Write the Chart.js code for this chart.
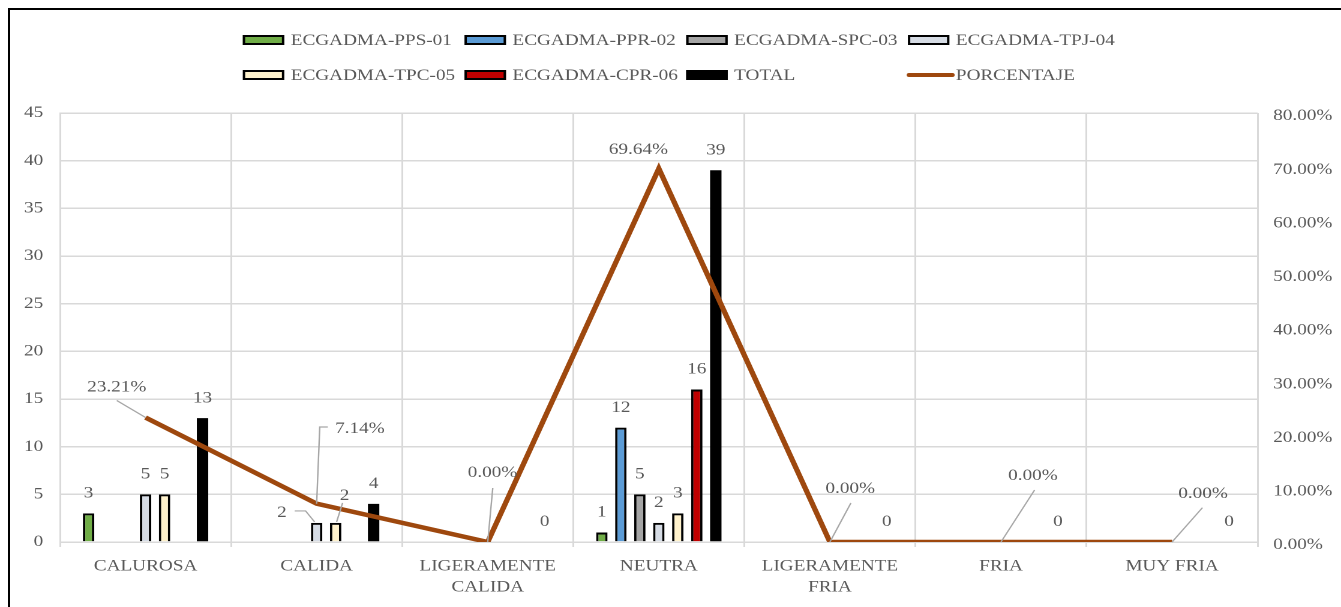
<!DOCTYPE html>
<html>
<head>
<meta charset="utf-8">
<title>Sensación térmica por punto</title>
<script src="https://cdn.jsdelivr.net/npm/chart.js@4.4.1/dist/chart.umd.min.js"></script>
<style>
  html, body { margin: 0; padding: 0; background: #fff; width: 1341px; height: 607px; overflow: hidden; }
  #wrap { position: absolute; left: 0; top: 0; width: 1118px; height: 607px; transform: scaleX(1.2); transform-origin: 0 0; }
  #frame-top { position: absolute; left: 8px; top: 8px; width: 1333px; height: 2px; background: #000; }
  #frame-left { position: absolute; left: 8px; top: 8px; width: 2px; height: 599px; background: #000; }
</style>
</head>
<body>
<div id="wrap"><canvas id="chart" width="1118" height="607"></canvas></div>
<div id="frame-top"></div>
<div id="frame-left"></div>
<script>
// Categories of thermal sensation
const categories = ['CALUROSA', 'CALIDA', ['LIGERAMENTE', 'CALIDA'], 'NEUTRA', ['LIGERAMENTE', 'FRIA'], 'FRIA', 'MUY FRIA'];

// Responses per station
const seriesNames = ['ECGADMA-PPS-01', 'ECGADMA-PPR-02', 'ECGADMA-SPC-03', 'ECGADMA-TPJ-04', 'ECGADMA-TPC-05', 'ECGADMA-CPR-06', 'TOTAL'];
const pps01 = [3, 0, 0, 1, 0, 0, 0];
const ppr02 = [0, 0, 0, 12, 0, 0, 0];
const spc03 = [0, 0, 0, 5, 0, 0, 0];
const tpj04 = [5, 2, 0, 2, 0, 0, 0];
const tpc05 = [5, 2, 0, 3, 0, 0, 0];
const cpr06 = [0, 0, 0, 16, 0, 0, 0];
const total = [13, 4, 0, 39, 0, 0, 0];

// Share of the total per category (%)
const porcentaje = [23.21, 7.14, 0.00, 69.64, 0.00, 0.00, 0.00];

// Axis ranges
const leftAxis = { min: 0, max: 45, step: 5 };
const rightAxis = { min: 0, max: 80, step: 10 };

const barColors = ['#70AD47', '#5B9BD5', '#A5A5A5', '#D6DCE5', '#FFF2CC', '#C00000', '#000000'];
const lineColor = '#9E480E';
const TEXT = '#595959';
const GRID = '#D9D9D9';
const LEADER = '#A6A6A6';
const FONT_FAMILY = "'Liberation Serif', 'Times New Roman', serif";

Chart.defaults.font.family = FONT_FAMILY;
Chart.defaults.font.size = 16;
Chart.defaults.color = TEXT;

const barSeries = [pps01, ppr02, spc03, tpj04, tpc05, cpr06, total];
const totalIndex = barSeries.length - 1;

const datasets = barSeries.map((values, k) => ({
  type: 'bar',
  label: seriesNames[k],
  data: values,
  backgroundColor: barColors[k],
  borderColor: '#000000',
  // the solid black total needs no outline; empty bars draw nothing
  borderWidth: c => (c.raw === 0 || k === totalIndex ? 0 : 2),
  borderSkipped: 'bottom',
  categoryPercentage: 0.777,
  barPercentage: 0.6,
  yAxisID: 'y',
  order: 1
}));

datasets.push({
  type: 'line',
  label: 'PORCENTAJE',
  data: porcentaje,
  borderColor: lineColor,
  backgroundColor: lineColor,
  borderWidth: 4.5,
  pointRadius: 0,
  tension: 0,
  fill: false,
  yAxisID: 'y1',
  order: 0
});

// Bar labels that sit beside their bar with a leader line: "dataset:index"
const barLabelMoves = {
  '3:1': { text: [-29, -10], leader: [[-18.3, -12], [-9.2, -12], [-1.7, -1]] },
  '4:1': { text: [7.5, -27], leader: [[5.8, -20], [0.8, -1]] }
};

// Placement of the percentage labels relative to each line vertex
const pctLabelPlacement = [
  { text: [-24, -30], leader: [[-24, -17], [0, 0]] },
  { text: [36, -75], leader: [[9.3, -76.7], [2.6, -76.7], [0, 0]] },
  { text: [4, -69], leader: [[4.2, -54], [0, 0]] },
  { text: [-17, -19], leader: null },
  { text: [17, -53], leader: [[17.5, -39], [0, 0]] },
  { text: [26.7, -66], leader: [[28, -52], [0, 0]] },
  { text: [25.8, -48], leader: [[25.3, -34.3], [0, 0]] }
];

function drawLeader(ctx, x0, y0, pts) {
  ctx.beginPath();
  pts.forEach((p, j) => {
    if (j === 0) ctx.moveTo(x0 + p[0], y0 + p[1]);
    else ctx.lineTo(x0 + p[0], y0 + p[1]);
  });
  ctx.stroke();
}

const valueLabels = {
  id: 'valueLabels',
  afterDatasetsDraw(chart) {
    const ctx = chart.ctx;
    ctx.save();
    ctx.font = '16px ' + FONT_FAMILY;
    ctx.fillStyle = TEXT;
    ctx.strokeStyle = LEADER;
    ctx.lineWidth = 1.2;
    ctx.textAlign = 'center';
    ctx.textBaseline = 'middle';

    barSeries.forEach((values, di) => {
      const meta = chart.getDatasetMeta(di);
      values.forEach((v, i) => {
        if (v === 0 && di !== totalIndex) return;
        const bar = meta.data[i];
        const move = barLabelMoves[di + ':' + i];
        if (move) {
          drawLeader(ctx, bar.x, bar.y, move.leader);
          ctx.fillText(String(v), bar.x + move.text[0], bar.y + move.text[1]);
        } else {
          ctx.fillText(String(v), bar.x, bar.y - 20);
        }
      });
    });

    const lineMeta = chart.getDatasetMeta(barSeries.length);
    porcentaje.forEach((v, i) => {
      const pt = lineMeta.data[i];
      const place = pctLabelPlacement[i];
      if (place.leader) drawLeader(ctx, pt.x, pt.y, place.leader);
      ctx.fillText(v.toFixed(2) + '%', pt.x + place.text[0], pt.y + place.text[1]);
    });
    ctx.restore();
  }
};

// Legend laid out on a four-column grid
const LEGEND = { left: 202.3, colStep: 184.75, top: 40, rowStep: 35, boxW: 34.6, boxH: 10, textGap: 40 };
const gridLegend = {
  id: 'gridLegend',
  afterDraw(chart) {
    const ctx = chart.ctx;
    ctx.save();
    ctx.font = '16px ' + FONT_FAMILY;
    ctx.textBaseline = 'middle';
    ctx.textAlign = 'left';
    chart.data.datasets.forEach((d, k) => {
      const x = LEGEND.left + (k % 4) * LEGEND.colStep;
      const y = LEGEND.top + Math.floor(k / 4) * LEGEND.rowStep;
      if (d.type === 'line') {
        ctx.strokeStyle = d.borderColor;
        ctx.lineWidth = 4;
        ctx.lineCap = 'round';
        ctx.beginPath();
        ctx.moveTo(x + 1, y);
        ctx.lineTo(x + 37, y);
        ctx.stroke();
      } else {
        ctx.fillStyle = d.backgroundColor;
        ctx.fillRect(x, y - LEGEND.boxH / 2, LEGEND.boxW, LEGEND.boxH);
        ctx.strokeStyle = '#000';
        ctx.lineWidth = 2;
        ctx.strokeRect(x + 1, y - LEGEND.boxH / 2 + 1, LEGEND.boxW - 2, LEGEND.boxH - 2);
      }
      ctx.fillStyle = TEXT;
      ctx.fillText(d.label, x + LEGEND.textGap, y + 1);
    });
    ctx.restore();
  }
};

new Chart(document.getElementById('chart'), {
  data: { labels: categories, datasets: datasets },
  options: {
    responsive: false,
    animation: false,
    devicePixelRatio: 2,
    layout: { padding: { top: 113, left: 0, right: 0, bottom: 0 } },
    plugins: { legend: { display: false }, tooltip: { enabled: false } },
    scales: {
      x: {
        type: 'category',
        offset: true,
        grid: { color: GRID, lineWidth: 1.5, tickLength: 5, offset: true, drawTicks: true },
        border: { color: GRID, width: 1.5 },
        ticks: { color: TEXT, padding: 9, maxRotation: 0, autoSkip: false, font: { size: 16, lineHeight: 1.3 } },
        afterFit: s => { s.height = 65; }
      },
      y: {
        position: 'left',
        min: leftAxis.min,
        max: leftAxis.max,
        ticks: { stepSize: leftAxis.step, padding: 14, color: TEXT },
        grid: { color: GRID, lineWidth: 1.5, drawTicks: false },
        border: { color: GRID, width: 1.5 },
        afterFit: s => { s.width = 50; }
      },
      y1: {
        position: 'right',
        min: rightAxis.min,
        max: rightAxis.max,
        ticks: { stepSize: rightAxis.step, padding: 13, labelOffset: 3, color: TEXT, callback: v => Number(v).toFixed(2) + '%' },
        grid: { display: false, drawTicks: false },
        border: { display: false },
        afterFit: s => { s.width = 70; }
      }
    }
  },
  plugins: [valueLabels, gridLegend]
});
</script>
</body>
</html>
